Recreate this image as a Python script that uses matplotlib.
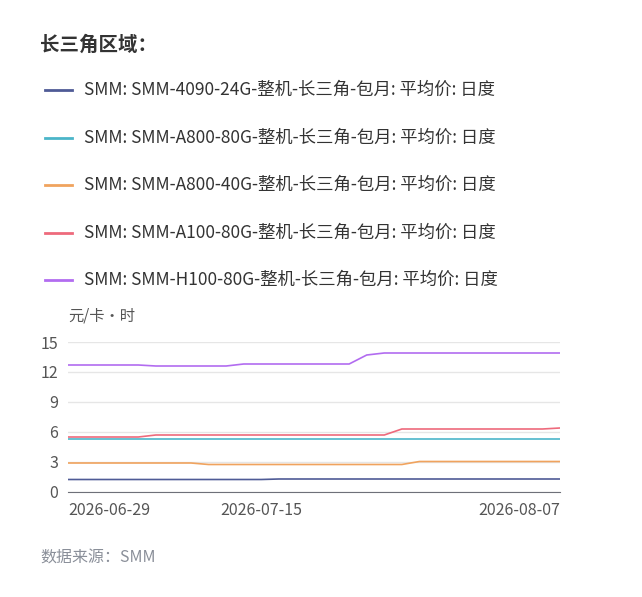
import matplotlib.pyplot as plt

plt.rcParams['font.family'] = ['Noto Sans CJK SC', 'DejaVu Sans']

# ── Data ─────────────────────────────────────────────────────────────────────
tick_pos = [0, 11, 28]
tick_labels = ["2026-06-29", "2026-07-15", "2026-08-07"]

names = [
    "SMM: SMM-4090-24G-整机-长三角-包月: 平均价: 日度",
    "SMM: SMM-A800-80G-整机-长三角-包月: 平均价: 日度",
    "SMM: SMM-A800-40G-整机-长三角-包月: 平均价: 日度",
    "SMM: SMM-A100-80G-整机-长三角-包月: 平均价: 日度",
    "SMM: SMM-H100-80G-整机-长三角-包月: 平均价: 日度",
]
s4090 = [1.25] * 12 + [1.3] * 17
a800_80 = [5.3] * 29
a800_40 = [2.9] * 8 + [2.75] * 12 + [3.05] * 9
a100 = [5.5] * 5 + [5.7] * 14 + [6.3] * 9 + [6.4]
h100 = [12.7] * 5 + [12.6] * 5 + [12.8] * 7 + [13.7] + [13.9] * 11
series = [s4090, a800_80, a800_40, a100, h100]
colors = ["#4f5b96", "#4bb5c9", "#f0a35e", "#ee6a7c", "#b26cf0"]

fig = plt.figure(figsize=(6.42, 5.97), dpi=100)
fig.text(40 / 642, 1 - 45 / 597, "长三角区域：", fontsize=14, fontweight="bold",
         color="#333333", va="center")

# legend area (pixel coords from top), clipped at the right edge like the reference
lax = fig.add_axes([0, 0.5, 605 / 642, 0.5])
lax.set_xlim(0, 605)
lax.set_ylim(298.5, 0)
lax.axis("off")
for i, (n, c) in enumerate(zip(names, colors)):
    y = 90 + i * 47.5
    lax.plot([45, 72], [y, y], color=c, lw=2)
    lax.text(84, y, n, fontsize=12.5, color="#333333", va="center", clip_on=True)

ax = fig.add_axes([68 / 642, 105 / 597, 492 / 642, 150 / 597])
x = range(len(h100))
for s, c in zip(series, colors):
    ax.plot(x, s, color=c, lw=1.2)
ax.set_xlim(0, 28)
ax.set_ylim(0, 15)
ax.set_yticks([0, 3, 6, 9, 12, 15])
ax.yaxis.grid(True, color="#e6e6e6", lw=1)
ax.set_axisbelow(True)
for sp in ["top", "right", "left"]:
    ax.spines[sp].set_visible(False)
ax.spines["bottom"].set_color("#6e7079")
ax.tick_params(left=False, bottom=False, labelsize=11.5, labelcolor="#555555")
ax.set_xticks(tick_pos)
ax.set_xticklabels(tick_labels)
lbls = ax.get_xticklabels()
lbls[0].set_ha("left")
lbls[-1].set_ha("right")
ax.text(0, 1.12, "元/卡·时", transform=ax.transAxes, fontsize=11,
        color="#555555", va="bottom")

fig.text(40 / 642, 1 - 558 / 597, "数据来源：SMM", fontsize=11.5, style="italic",
         color="#8a8f99", va="center")

fig.savefig("out.png", dpi=100)
